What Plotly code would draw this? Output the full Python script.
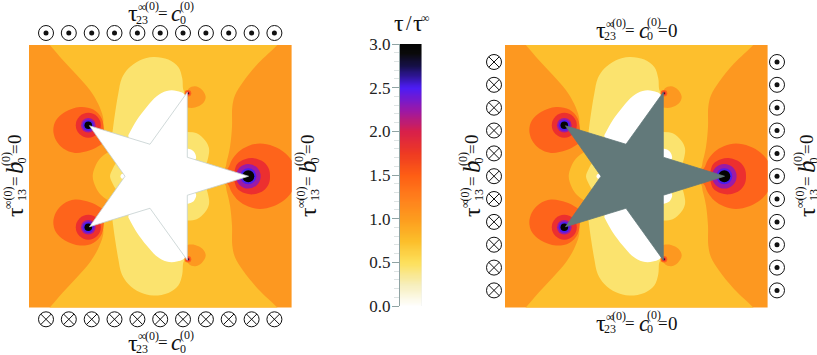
import numpy as np
import plotly.graph_objects as go

W = 817
H = 355

# star outline, panel coordinates (1 unit = 1 px, origin left edge / mid height)
star_x = [219.5, 158.3, 158.3, 121, 60.5, 96, 60.5, 121, 158.3, 158.3, 219.5]
star_y = [0, 19, 84, 32, 50.5, 0, -50.5, -32, -84, -19, 0]

# contour bands, upper half only (lower half is a mirror)
mid_x = [12, 21, 34, 48, 61, 69, 74, 75.3, 90, 130, 170, 195, 198, 201, 203, 203.3, 206, 214, 229, 248, 256]
mid_y = [141, 131, 116, 101, 86, 72.7, 59.3, 46, 30, 20, 8, 7, 16, 29.3, 49.3, 69.3, 81, 94.3, 112.7, 131, 141]

pale_x = [83.3, 86, 89.3, 92.7, 99.3, 111, 124.3, 139.3, 149.3, 153.3, 154, 155.7, 140, 110]
pale_y = [42.7, 62.7, 82.7, 97.7, 107.7, 116, 119.3, 116.7, 109.3, 97.7, 87.7, 81, 40, 25]

white_x = [99.3, 107.7, 117.7, 127.7, 137.7, 147.7, 156, 150, 125, 100]
white_y = [41, 56, 69.3, 80, 85.3, 85.3, 81, 50, 28, 36]

side_pale_x = [158.3, 167.7, 176, 180, 179.3, 176, 165, 150]
side_pale_y = [44.3, 43, 36, 28, 19.3, 11, 8, 40]

side_white_x = [158.3, 164.3, 167, 155]
side_white_y = [27.7, 25.3, 17.7, 10]

lobe_x = [158, 160, 166, 172.7, 176.7, 173.7, 166, 158.3, 154]
lobe_y = [84, 88, 90, 86.7, 79.3, 72.7, 68.7, 68.7, 70]

tip_hot_x = [24.3, 27, 36, 51, 64.3, 72.7, 75, 75, 71, 61, 46, 34.3, 27, 24.3]
tip_hot_y = [46, 56, 64.3, 69.3, 66.7, 57.7, 44.3, 34.3, 31, 26, 23.3, 27.7, 36, 46]

# bands that cross the mid line, upper half listed
blob_x = [110, 90, 79.3, 71, 66, 63.7]
blob_y = [30, 30, 24.3, 17.7, 9.3, 0]

blob_pale_x = [110, 95, 87, 83.5, 81]
blob_pale_y = [30, 20, 13, 7, 0]

right_hot_x = [190, 198.7, 202.7, 209.3, 219.3, 231, 244.3, 256, 264.3, 266]
right_hot_y = [3, 7.7, 16, 24.3, 30.3, 32.7, 30, 23.3, 12.7, 0]

right_red_x = [205, 208, 216, 225, 235, 240, 241]
right_red_y = [2, 12, 17, 18, 14, 7, 0]

# tip rings
left_tip = (59.3, 51)
top_tip = (159, 83)
right_tip = (219.3, 0)
left_radii = [12.5, 7.3, 5.5, 3.8]
top_radii = [3.3, 2, 1]
right_radii = [12.3, 8, 6]

# symbols round the panels, figure pixels
row_x = [46, 68.8, 91.7, 114.5, 137.4, 160.2, 183, 205.9, 228.7, 251.6, 274.4]
col_y = [62, 84.8, 107.7, 130.5, 153.4, 176.2, 199, 221.9, 244.7, 267.6, 290.4]

# colour bar
bar_levels = np.linspace(0, 3, 121)
bar_stops = [0, 0.25, 0.5, 0.75, 1.0, 1.25, 1.5, 1.75, 2.0, 2.25, 2.5, 2.75, 2.9, 3.0]
bar_colors = ["#ffffff", "#f6eebb", "#fde05c", "#fcbe2a", "#fd9c1e", "#ff7e1c", "#fe5e14",
              "#ee3a22", "#d8204a", "#9a18a8", "#4d1cf5", "#16104a", "#0a0a0a", "#050505"]
bar_ticks = [0, 0.5, 1, 1.5, 2, 2.5, 3]
bar_ticktext = ["0.0", "0.5", "1.0", "1.5", "2.0", "2.5", "3.0"]

ORANGE = "#fd9820"
YELLOW = "#fdbf2d"
PALE = "#fbe36e"
HOT = "#fe641b"
RED = "#ec2f2f"
PURPLE = "#9a1ba6"
BLUE = "#4b1df0"
BLACK = "#040404"
INK = "#111111"
STAR_GREY = "#62797a"
EDGE_GREY = "#c4cfcf"
SERIF = "Liberation Serif"

fig = go.Figure()


def band(x, y, color, xa, ya, shape="spline"):
    fig.add_trace(go.Scatter(x=x, y=y, mode="lines", fill="toself", fillcolor=color,
                             line=dict(color=color, width=0, shape=shape),
                             hoverinfo="skip", showlegend=False, xaxis=xa, yaxis=ya))


def both_halves(x, y, color, xa, ya):
    band(x, y, color, xa, ya)
    band(x, [-v for v in y], color, xa, ya)


def across(x, y, color, xa, ya):
    # join the listed upper half with its mirror into one closed band
    xs = list(x) + list(x[-2::-1])
    ys = list(y) + [-v for v in y[-2::-1]]
    band(xs, ys, color, xa, ya)


def rings(cx, cy, radii, colors, xa, ya):
    for r, c in zip(radii, colors):
        fig.add_trace(go.Scatter(x=[cx], y=[cy], mode="markers",
                                 marker=dict(size=2 * r, color=c, line=dict(width=0)),
                                 hoverinfo="skip", showlegend=False, xaxis=xa, yaxis=ya))


def panel(xa, ya, star_fill, star_line):
    both_halves(mid_x, mid_y, YELLOW, xa, ya)
    both_halves(pale_x, pale_y, PALE, xa, ya)
    both_halves(white_x, white_y, "#ffffff", xa, ya)
    both_halves(side_pale_x, side_pale_y, PALE, xa, ya)
    both_halves(side_white_x, side_white_y, "#ffffff", xa, ya)
    both_halves(lobe_x, lobe_y, ORANGE, xa, ya)
    both_halves(tip_hot_x, tip_hot_y, HOT, xa, ya)
    across(blob_x, blob_y, YELLOW, xa, ya)
    across(blob_pale_x, blob_pale_y, PALE, xa, ya)
    across(right_hot_x, right_hot_y, HOT, xa, ya)
    across(right_red_x, right_red_y, RED, xa, ya)
    rings(94, 0, [2.5], ["#ffffff"], xa, ya)
    for sign in (1, -1):
        rings(left_tip[0], sign * left_tip[1], left_radii, [RED, PURPLE, BLUE, BLACK], xa, ya)
        rings(top_tip[0], sign * top_tip[1], top_radii, [HOT, RED, "#400a20"], xa, ya)
    rings(right_tip[0], right_tip[1], right_radii, [PURPLE, BLUE, BLACK], xa, ya)
    fig.add_trace(go.Scatter(x=star_x, y=star_y, mode="lines", fill="toself", fillcolor=star_fill,
                             line=dict(color=star_line, width=0.8),
                             hoverinfo="skip", showlegend=False, xaxis=xa, yaxis=ya))


def symbols(x, y, kind):
    name = "circle-open" if kind == "out" else "circle-x-open"
    fig.add_trace(go.Scatter(x=x, y=y, mode="markers",
                             marker=dict(size=15, symbol=name, color=INK, line=dict(color=INK, width=1)),
                             hoverinfo="skip", showlegend=False, xaxis="x4", yaxis="y4"))
    if kind == "out":
        fig.add_trace(go.Scatter(x=x, y=y, mode="markers",
                                 marker=dict(size=5, color=INK),
                                 hoverinfo="skip", showlegend=False, xaxis="x4", yaxis="y4"))


panel("x", "y", "#ffffff", EDGE_GREY)
panel("x3", "y3", STAR_GREY, STAR_GREY)

symbols(row_x, [33] * len(row_x), "out")
symbols(row_x, [319.3] * len(row_x), "in")
symbols([494] * len(col_y), col_y, "in")
symbols([777] * len(col_y), col_y, "out")

fig.add_trace(go.Heatmap(x=[0, 1], y=bar_levels, z=[[v, v] for v in bar_levels],
                         zmin=0, zmax=3, zsmooth="best", showscale=False, hoverinfo="skip",
                         colorscale=[[s / 3, c] for s, c in zip(bar_stops, bar_colors)],
                         xaxis="x2", yaxis="y2"))

# label pieces: text, offset along the line, offset across it, size
tau23_pieces = [("τ", -27.3, 0, 24), ("∞", -17.5, -6.5, 12), ("(0)", -8.5, -7, 12), ("23", -17.7, 6, 12),
                ("=", 2.5, 0, 17), ("<i>c</i>", 16, 0, 23), ("(0)", 27, -7.5, 12), ("0", 23, 6, 12)]
tau23_zero_pieces = [("τ", -35, 0, 24), ("∞", -26, -6.5, 12), ("(0)", -17.5, -7, 12), ("23", -26, 6, 12),
                     ("=", -6, 0, 17), ("<i>c</i>", 8, 0, 23), ("(0)", 18, -8, 12), ("0", 14, 6, 12),
                     ("=", 27, 0, 17), ("0", 37, 0, 19)]
tau13_pieces = [("τ", -36, 0, 24), ("∞", -28, -7, 12), ("(0)", -18, -7.5, 12), ("13", -19.5, 6.5, 12),
                ("=", -5, 0, 17), ("<i>b</i>", 9, -1, 25), ("(0)", 17, -9, 12), ("0", 15, 6.5, 12),
                ("=", 27, 0, 17), ("0", 37, 0, 19)]
bar_title_pieces = [("τ", -12, 0, 24), ("/", -2, 0, 20), ("τ", 7, 0, 24), ("∞", 14.5, -5, 12)]


def put_label(pieces, x0, y0, vertical=False):
    for text, along, across_, size in pieces:
        if vertical:
            px, py = x0 + across_, y0 - along
        else:
            px, py = x0 + along, y0 + across_
        fig.add_annotation(x=px / W, y=1 - py / H, xref="paper", yref="paper", text=text,
                           showarrow=False, xanchor="center", yanchor="middle",
                           textangle=-90 if vertical else 0,
                           font=dict(family=SERIF, size=size, color=INK))


put_label(tau23_pieces, 160, 13.5)
put_label(tau23_pieces, 160, 342.5)
put_label(tau13_pieces, 15, 176, vertical=True)
put_label(tau13_pieces, 308, 176, vertical=True)
put_label(tau23_zero_pieces, 636, 30)
put_label(tau23_zero_pieces, 636, 323)
put_label(tau13_pieces, 472, 176, vertical=True)
put_label(tau13_pieces, 807, 176, vertical=True)
put_label(bar_title_pieces, 410.5, 23)

hidden = dict(visible=False, showgrid=False, zeroline=False, automargin=False)
fig.update_layout(
    width=W, height=H, margin=dict(l=0, r=0, t=0, b=0),
    paper_bgcolor="white", plot_bgcolor="rgba(0,0,0,0)", showlegend=False,
    xaxis=dict(domain=[29 / W, 291.6 / W], range=[0, 262.6], anchor="y", **hidden),
    yaxis=dict(domain=[1 - 307.5 / H, 1 - 45 / H], range=[-131.25, 131.25], anchor="x", **hidden),
    xaxis3=dict(domain=[505 / W, 767.6 / W], range=[0, 262.6], anchor="y3", **hidden),
    yaxis3=dict(domain=[1 - 307.5 / H, 1 - 45 / H], range=[-131.25, 131.25], anchor="x3", **hidden),
    xaxis4=dict(domain=[0, 1], range=[0, W], anchor="y4", **hidden),
    yaxis4=dict(domain=[0, 1], range=[H, 0], anchor="x4", **hidden),
    xaxis2=dict(domain=[400 / W, 421.5 / W], range=[0, 1], anchor="y2", **hidden),
    yaxis2=dict(domain=[1 - 306 / H, 1 - 44 / H], range=[0, 3], side="left", anchor="x2", automargin=False,
                showgrid=False, zeroline=False, showline=True, linecolor="#8fa3a3", linewidth=1,
                tickmode="array", tickvals=bar_ticks, ticktext=bar_ticktext,
                ticks="outside", ticklen=7, tickcolor="#8fa3a3", tickwidth=1, ticklabelstandoff=-2,
                minor=dict(dtick=0.1, ticks="outside", ticklen=5, tickcolor="#dde3e3", tickwidth=1),
                tickfont=dict(family=SERIF, size=17, color="#222222")),
)
for xr, yr in (("x domain", "y domain"), ("x3 domain", "y3 domain")):
    fig.add_shape(type="rect", xref=xr, yref=yr, x0=0, x1=1, y0=0, y1=1,
                  fillcolor=ORANGE, line=dict(width=0), layer="below")
fig.add_shape(type="rect", xref="x2", yref="y2", x0=0, x1=1, y0=0, y1=3,
              line=dict(color="#dde3e3", width=1), layer="below")

# the page's default body margin would push the figure off its pixel positions
fig.write_html("out.html", config={"displayModeBar": False},
               post_script="document.body.style.margin='0';")
